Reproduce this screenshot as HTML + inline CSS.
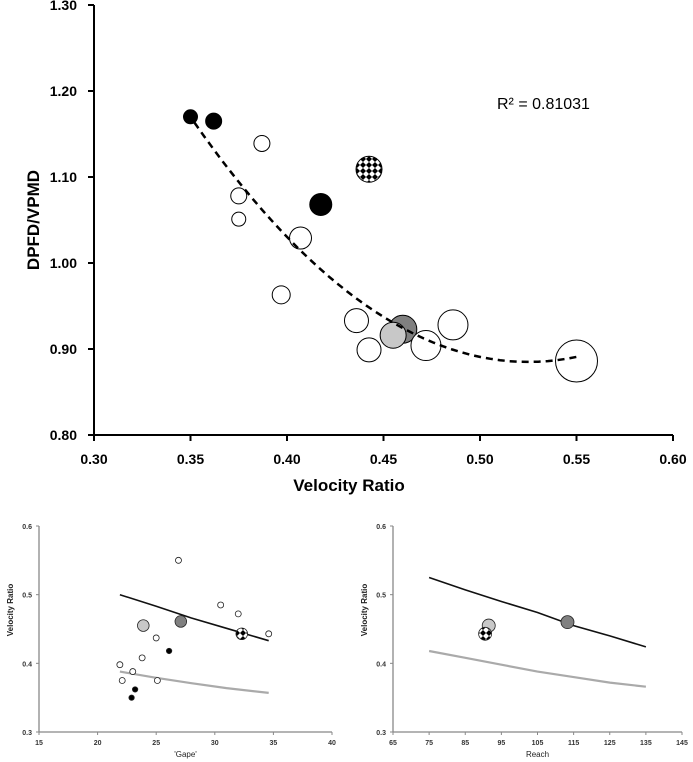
<!DOCTYPE html>
<html><head><meta charset="utf-8"><style>
html,body{margin:0;padding:0;background:#fff;}
svg{display:block;font-family:"Liberation Sans",sans-serif;}
</style></head><body>
<svg id="fig" width="693" height="762" viewBox="0 0 693 762" xmlns="http://www.w3.org/2000/svg">
<defs>
<pattern id="chk" patternUnits="userSpaceOnUse" width="6" height="6">
<rect width="6" height="6" fill="#fff"/>
<path d="M3 0 L6 3 L3 6 L0 3Z" fill="#000"/>
</pattern>
</defs>
<g id="main"></g>
<g id="gape"></g>
<g id="reach"></g>
</svg>
<script>
// Main chart data
const mainX = [0.35,0.362,0.387,0.375,0.375,0.4175,0.407,0.397,0.4425,0.436,0.4425,0.46,0.455,0.472,0.486,0.55];
const mainY = [1.17,1.165,1.139,1.078,1.051,1.068,1.029,0.963,1.109,0.933,0.899,0.923,0.916,0.904,0.928,0.886];
const mainR = [7,8,8,8,7,11,11,9,13,12,12,14,13,15,15,21];
const mainFill = ["k","k","o","o","o","k","o","o","c","o","o","d","l","o","o","o"];
const mainXTicks = ["0.30","0.35","0.40","0.45","0.50","0.55","0.60"];
const mainYTicks = ["0.80","0.90","1.00","1.10","1.20","1.30"];
const fitCoef = [9.3,0.525,0.885]; // a, h, k : y=a(x-h)^2+k
const fitRange = [0.352,0.55];
// Gape chart data
const gapeX = [21.9,22.1,23,23.8,25,25.1,26.9,30.5,32,34.6,22.9,23.2,26.1,23.9,27.1,32.3];
const gapeY = [0.398,0.375,0.388,0.408,0.437,0.375,0.55,0.485,0.472,0.443,0.35,0.362,0.418,0.455,0.461,0.443];
const gapeFill = ["o","o","o","o","o","o","o","o","o","o","k","k","k","l","d","c"];
const gapeLineX = [21.9,25,28,31,34.6];
const gapeBlackY = [0.5,0.483,0.466,0.451,0.433];
const gapeGrayY = [0.388,0.379,0.371,0.364,0.357];
const gapeXTicks = [15,20,25,30,35,40];
// Reach chart data
const reachX = [91.5,90.5,113.3];
const reachY = [0.455,0.443,0.46];
const reachFill = ["l","c","d"];
const reachLineX = [75,85,95,105,115,125,135];
const reachBlackY = [0.525,0.507,0.49,0.474,0.455,0.44,0.424];
const reachGrayY = [0.418,0.408,0.398,0.388,0.38,0.372,0.366];
const reachXTicks = [65,75,85,95,105,115,125,135,145];
const smallYTicks = ["0.3","0.4","0.5","0.6"];

const NS="http://www.w3.org/2000/svg";
function mk(parent,tag,attrs,text){const e=document.createElementNS(NS,tag);for(const k in attrs)e.setAttribute(k,attrs[k]);if(text!==undefined)e.textContent=text;parent.appendChild(e);return e;}
const fills={k:"#000",o:"#fff",d:"#808080",l:"#c8c8c8",c:"url(#chk)"};

// ---- main
const gm=document.getElementById('main');
const mx=v=>94+(v-0.30)/0.30*579;
const my=v=>435-(v-0.80)/0.50*430;
let e=mk(gm,'line',{x1:94,y1:5,x2:94,y2:435,stroke:'#000','stroke-width':2});


e=mk(gm,'line',{x1:94,y1:435,x2:673,y2:435,stroke:'#000','stroke-width':2});


mainYTicks.forEach(t=>{const y=my(parseFloat(t));
 mk(gm,'line',{x1:88,y1:y,x2:94,y2:y,stroke:'#000','stroke-width':2});
 e=mk(gm,'text',{x:77,y:y+5,'text-anchor':'end','font-size':14,'font-weight':'bold'},t);
 
 });
mainXTicks.forEach(t=>{const x=mx(parseFloat(t));
 mk(gm,'line',{x1:x,y1:435,x2:x,y2:441,stroke:'#000','stroke-width':2});
 e=mk(gm,'text',{x:x,y:464,'text-anchor':'middle','font-size':14,'font-weight':'bold'},t);
 
 });
e=mk(gm,'text',{x:349,y:491,'text-anchor':'middle','font-size':17,'font-weight':'bold'},'Velocity Ratio');


e=mk(gm,'text',{x:0,y:0,'text-anchor':'middle','font-size':17,'font-weight':'bold',transform:'translate(39,220) rotate(-90)'},'DPFD/VPMD');


e=mk(gm,'text',{x:497,y:109,'font-size':16},'R² = 0.81031');


mainX.forEach((v,i)=>{e=mk(gm,'circle',{cx:mx(v),cy:my(mainY[i]),r:mainR[i],fill:fills[mainFill[i]],stroke:'#000','stroke-width':1});
 
 });
let d='';for(let i=0;i<=40;i++){const x=fitRange[0]+(fitRange[1]-fitRange[0])*i/40;const y=fitCoef[0]*(x-fitCoef[1])**2+fitCoef[2];d+=(i?'L':'M')+mx(x).toFixed(1)+' '+my(y).toFixed(1);}
e=mk(gm,'path',{d:d,fill:'none',stroke:'#000','stroke-width':2.5,'stroke-dasharray':'7 5'});



// ---- small charts
function small(g,x0,x1,xmin,xmax,ticks,title,px,py,pf,lx,by,gy,r){
 const sx=v=>x0+(v-xmin)/(xmax-xmin)*(x1-x0);
 const sy=v=>732-(v-0.3)/0.3*206;
 mk(g,'line',{x1:x0,y1:526,x2:x0,y2:732,stroke:'#888','stroke-width':1.3});
 mk(g,'line',{x1:x0,y1:732,x2:x1,y2:732,stroke:'#888','stroke-width':1.3});
 smallYTicks.forEach(t=>{const y=sy(parseFloat(t));mk(g,'line',{x1:x0-3,y1:y,x2:x0,y2:y,stroke:'#888'});
  let t2=mk(g,'text',{x:x0-7,y:y+3,'text-anchor':'end','font-size':7,'font-weight':'bold','fill':'#333'},t);
  
  });
 ticks.forEach(t=>{const x=sx(t);mk(g,'line',{x1:x,y1:732,x2:x,y2:735,stroke:'#888'});
  let t2=mk(g,'text',{x:x,y:745,'text-anchor':'middle','font-size':7,'font-weight':'bold','fill':'#333'},String(t));
  
  });
 let t3=mk(g,'text',{x:(x0+x1)/2,y:757,'text-anchor':'middle','font-size':8,'fill':'#222'},title);
 
 
 t3=mk(g,'text',{x:0,y:0,'text-anchor':'middle','font-size':8,'font-weight':'bold','fill':'#222',transform:'translate('+(x0-26)+',610) rotate(-90)'},'Velocity Ratio');
 
 
 const line=(ys,col,name)=>{let d='';lx.forEach((v,i)=>{d+=(i?'L':'M')+sx(v).toFixed(1)+' '+sy(ys[i]).toFixed(1);});
  let p=mk(g,'path',{d:d,fill:'none',stroke:col,'stroke-width':name==='gray-curve'?2.2:1.6});
  
  };
 line(gy,'#aaa','gray-curve');
 line(by,'#111','black-curve');
 px.forEach((v,i)=>{const big=pf[i]==='l'||pf[i]==='d'||pf[i]==='c';
  let c=mk(g,'circle',{cx:sx(v),cy:sy(py[i]),r:big?r:(pf[i]==='k'?2.7:3),fill:fills[pf[i]],stroke:'#222','stroke-width':0.8});
  
  });
}
small(document.getElementById('gape'),39,332,15,40,gapeXTicks,"'Gape'",gapeX,gapeY,gapeFill,gapeLineX,gapeBlackY,gapeGrayY,5.8);
small(document.getElementById('reach'),393,682,65,145,reachXTicks,'Reach',reachX,reachY,reachFill,reachLineX,reachBlackY,reachGrayY,6.5);
</script>
</body></html>
